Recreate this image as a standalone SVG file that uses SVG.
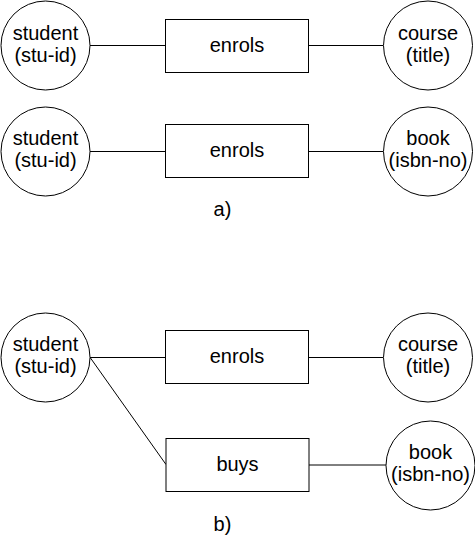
<svg xmlns="http://www.w3.org/2000/svg" width="475" height="538" viewBox="0 0 475 538">
<style>
.n{fill:#fff;stroke:#000;stroke-width:1}
.t{font-family:"Liberation Sans",Arial,sans-serif;font-size:20px;fill:#000;text-anchor:middle}
.c{stroke:#000;stroke-width:1;fill:none}
</style>
<rect width="475" height="538" fill="#fff"/>
<g id="connectors">
<line class="c" x1="90" y1="45.5" x2="165.5" y2="45.5"/>
<line class="c" x1="308.5" y1="45.5" x2="383" y2="45.5"/>
<line class="c" x1="90" y1="151.5" x2="165.5" y2="151.5"/>
<line class="c" x1="308.5" y1="151.5" x2="383" y2="151.5"/>
<line class="c" x1="90" y1="357.5" x2="165.5" y2="357.5"/>
<line class="c" x1="308.5" y1="357.5" x2="383" y2="357.5"/>
<line class="c" x1="90.5" y1="358" x2="166" y2="464.5"/>
<line class="c" x1="309" y1="465" x2="386" y2="465"/>
</g>
<g id="a-student"><circle class="n" cx="45.5" cy="45.5" r="44.5"/><text class="t" x="45.5" y="40">student</text><text class="t" x="45.5" y="62">(stu-id)</text></g>
<g id="a-enrols1"><rect class="n" x="165.5" y="19.5" width="143" height="53"/><text class="t" x="237" y="52">enrols</text></g>
<g id="a-course"><circle class="n" cx="428" cy="45.5" r="44.5"/><text class="t" x="428" y="40">course</text><text class="t" x="428" y="62">(title)</text></g>
<g id="a-student2"><circle class="n" cx="45.5" cy="151.5" r="44.5"/><text class="t" x="45.5" y="145">student</text><text class="t" x="45.5" y="167">(stu-id)</text></g>
<g id="a-enrols2"><rect class="n" x="165.5" y="124.5" width="143" height="53"/><text class="t" x="237" y="157">enrols</text></g>
<g id="a-book"><circle class="n" cx="428" cy="151.5" r="44.5"/><text class="t" x="428" y="145">book</text><text class="t" x="428" y="167">(isbn-no)</text></g>
<g id="label-a"><text class="t" x="222.5" y="216">a)</text></g>
<g id="b-student"><circle class="n" cx="45.5" cy="357.5" r="44.5"/><text class="t" x="45.5" y="351">student</text><text class="t" x="45.5" y="373">(stu-id)</text></g>
<g id="b-enrols"><rect class="n" x="165.5" y="330.5" width="143" height="53"/><text class="t" x="237" y="363">enrols</text></g>
<g id="b-course"><circle class="n" cx="428" cy="357.5" r="44.5"/><text class="t" x="428" y="351">course</text><text class="t" x="428" y="373">(title)</text></g>
<g id="b-buys"><rect class="n" x="166" y="438.5" width="143" height="53"/><text class="t" x="237.5" y="471">buys</text></g>
<g id="b-book"><circle class="n" cx="430.5" cy="465.5" r="44.5"/><text class="t" x="430.5" y="459">book</text><text class="t" x="430.5" y="481">(isbn-no)</text></g>
<g id="label-b"><text class="t" x="222.5" y="531">b)</text></g>
</svg>
